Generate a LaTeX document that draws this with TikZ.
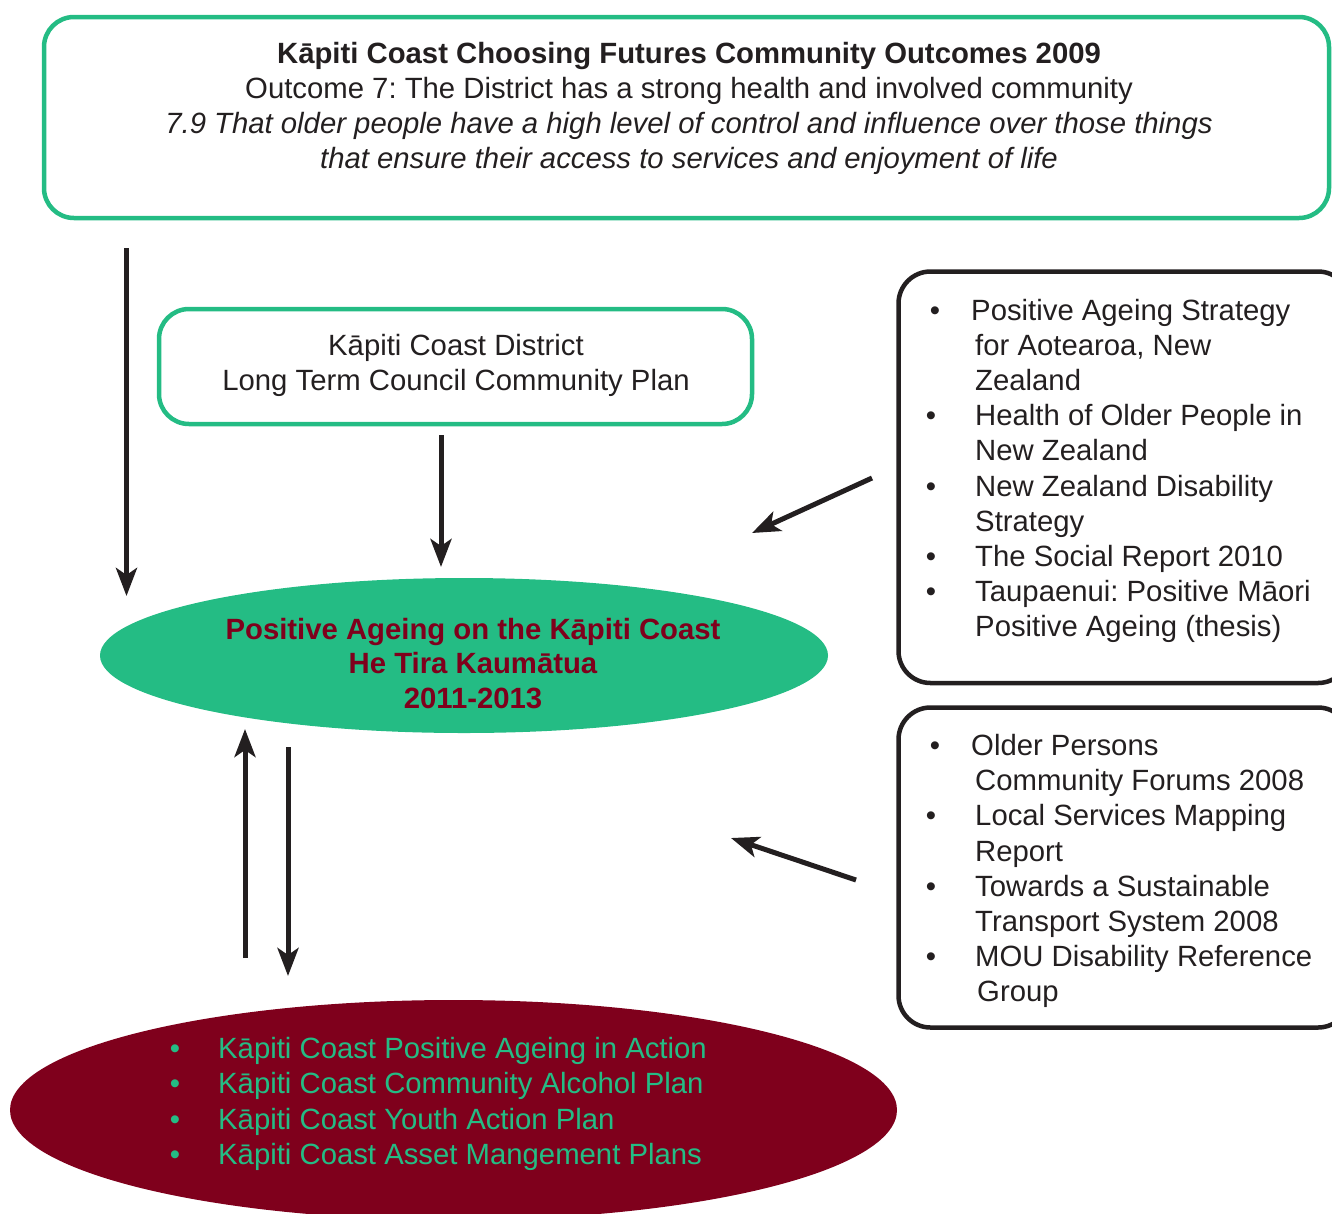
\documentclass[tikz,border=0pt]{standalone}
\usepackage{fontspec}
\setmainfont{Liberation Sans}
\usetikzlibrary{arrows.meta,shapes.geometric}
\definecolor{kgreen}{HTML}{24BC84}
\definecolor{kred}{HTML}{7F001C}
\definecolor{kblack}{HTML}{231F20}
\frenchspacing
\begin{document}
\begin{tikzpicture}[x=1pt,y=-1pt,
  txt/.style={font=\fontsize{29.3}{35}\selectfont, text=kblack, inner sep=0pt, anchor=base},
  ltxt/.style={txt, anchor=base west},
  gbox/.style={draw=kgreen, line width=4.5pt, rounded corners=30pt, inner sep=0pt},
  bbox/.style={draw=kblack, line width=4.5pt, rounded corners=32pt, inner sep=0pt},
  arr/.style={draw=kblack, line width=5pt, -{Stealth[length=28pt,width=21pt,inset=7pt]}},
]
\useasboundingbox (0,0) rectangle (1332,1213);
\clip (0,0) rectangle (1332,1213);

% boxes
\node[gbox, minimum width=1285pt, minimum height=201pt] (top) at (686.5,117.5) {};
\node[gbox, minimum width=593pt, minimum height=115pt] (ltccp) at (455.5,366.5) {};
\node[bbox, minimum width=451.5pt, minimum height=411.5pt] (rb1) at (1124.25,477.25) {};
\node[bbox, minimum width=451.5pt, minimum height=320pt] (rb2) at (1124.25,867.5) {};

% ellipses
\node[ellipse, fill=kgreen, inner sep=0pt, minimum width=728pt, minimum height=155pt] (pa) at (464,655.5) {};
\node[ellipse, fill=kred, inner sep=0pt, minimum width=887pt, minimum height=220pt] (act) at (453.5,1110) {};

% top box text
\node[txt, font=\fontsize{29.3}{35}\selectfont\bfseries] (t1) at (689,63) {Kāpiti Coast Choosing Futures Community Outcomes 2009};
\node[txt] (t2) at (689,98.5) {Outcome 7: The District has a strong health and involved community};
\node[txt, font=\fontsize{29.3}{35}\selectfont\itshape] (t3) at (689,133.5) {7.9 That older people have a high level of control and influence over those things};
\node[txt, font=\fontsize{29.3}{35}\selectfont\itshape] (t4) at (689,168.5) {that ensure their access to services and enjoyment of life};

% LTCCP text
\node[txt] (l1) at (456,355) {Kāpiti Coast District};
\node[txt] (l2) at (456,390) {Long Term Council Community Plan};

% central ellipse text
\node[txt, text=kred, font=\fontsize{29.3}{35}\selectfont\bfseries] (p1) at (473,639) {Positive Ageing on the Kāpiti Coast};
\node[txt, text=kred, font=\fontsize{29.3}{35}\selectfont\bfseries] (p2) at (473,673.5) {He Tira Kaumātua};
\node[txt, text=kred, font=\fontsize{29.3}{35}\selectfont\bfseries] (p3) at (473,708) {2011-2013};

% right box 1
\node[txt] (b11) at (935,320) {•};
\node[txt] (b12) at (931,425) {•};
\node[txt] (b13) at (931,496) {•};
\node[txt] (b14) at (931,566) {•};
\node[txt] (b15) at (931,601) {•};
\node[ltxt] (r1) at (971,320) {Positive Ageing Strategy};
\node[ltxt] (r2) at (975,355) {for Aotearoa, New};
\node[ltxt] (r3) at (975,390) {Zealand};
\node[ltxt] (r4) at (975,425) {Health of Older People in};
\node[ltxt] (r5) at (975,460) {New Zealand};
\node[ltxt] (r6) at (975,496) {New Zealand Disability};
\node[ltxt] (r7) at (975,531) {Strategy};
\node[ltxt] (r8) at (975,566) {The Social Report 2010};
\node[ltxt] (r9) at (975,601) {Taupaenui: Positive Māori};
\node[ltxt] (r10) at (975,636) {Positive Ageing (thesis)};

% right box 2
\node[txt] (b21) at (935,755) {•};
\node[txt] (b22) at (931,825) {•};
\node[txt] (b23) at (931,896) {•};
\node[txt] (b24) at (931,966) {•};
\node[ltxt] (s1) at (971,755) {Older Persons};
\node[ltxt] (s2) at (975,790) {Community Forums 2008};
\node[ltxt] (s3) at (975,825) {Local Services Mapping};
\node[ltxt] (s4) at (975,861) {Report};
\node[ltxt] (s5) at (975,896) {Towards a Sustainable};
\node[ltxt] (s6) at (975,931) {Transport System 2008};
\node[ltxt] (s7) at (975,966) {MOU Disability Reference};
\node[ltxt] (s8) at (977,1001) {Group};

% bottom ellipse text
\node[txt, text=kgreen] (g1) at (175,1058) {•};
\node[txt, text=kgreen] (g2) at (175,1093.5) {•};
\node[txt, text=kgreen] (g3) at (175,1129) {•};
\node[txt, text=kgreen] (g4) at (175,1164) {•};
\node[ltxt, text=kgreen] (e1) at (218,1058) {Kāpiti Coast Positive Ageing in Action};
\node[ltxt, text=kgreen] (e2) at (218,1093.5) {Kāpiti Coast Community Alcohol Plan};
\node[ltxt, text=kgreen] (e3) at (218,1129) {Kāpiti Coast Youth Action Plan};
\node[ltxt, text=kgreen] (e4) at (218,1164) {Kāpiti Coast Asset Mangement Plans};

% arrow end points
\coordinate (a1s) at (126.5,248);  \coordinate (a1e) at (126.5,596);
\coordinate (a2s) at (441,435);    \coordinate (a2e) at (441,567);
\coordinate (a3s) at (872,478);    \coordinate (a3e) at (752,533);
\coordinate (a4s) at (856,880);    \coordinate (a4e) at (731,838);
\coordinate (a5s) at (245,958);    \coordinate (a5e) at (245,729);
\coordinate (a6s) at (288,747);    \coordinate (a6e) at (288,976);

\draw[arr] (a1s) -- (a1e);
\draw[arr] (a2s) -- (a2e);
\draw[arr] (a3s) -- (a3e);
\draw[arr] (a4s) -- (a4e);
\draw[arr] (a5s) -- (a5e);
\draw[arr] (a6s) -- (a6e);
\end{tikzpicture}
\end{document}
